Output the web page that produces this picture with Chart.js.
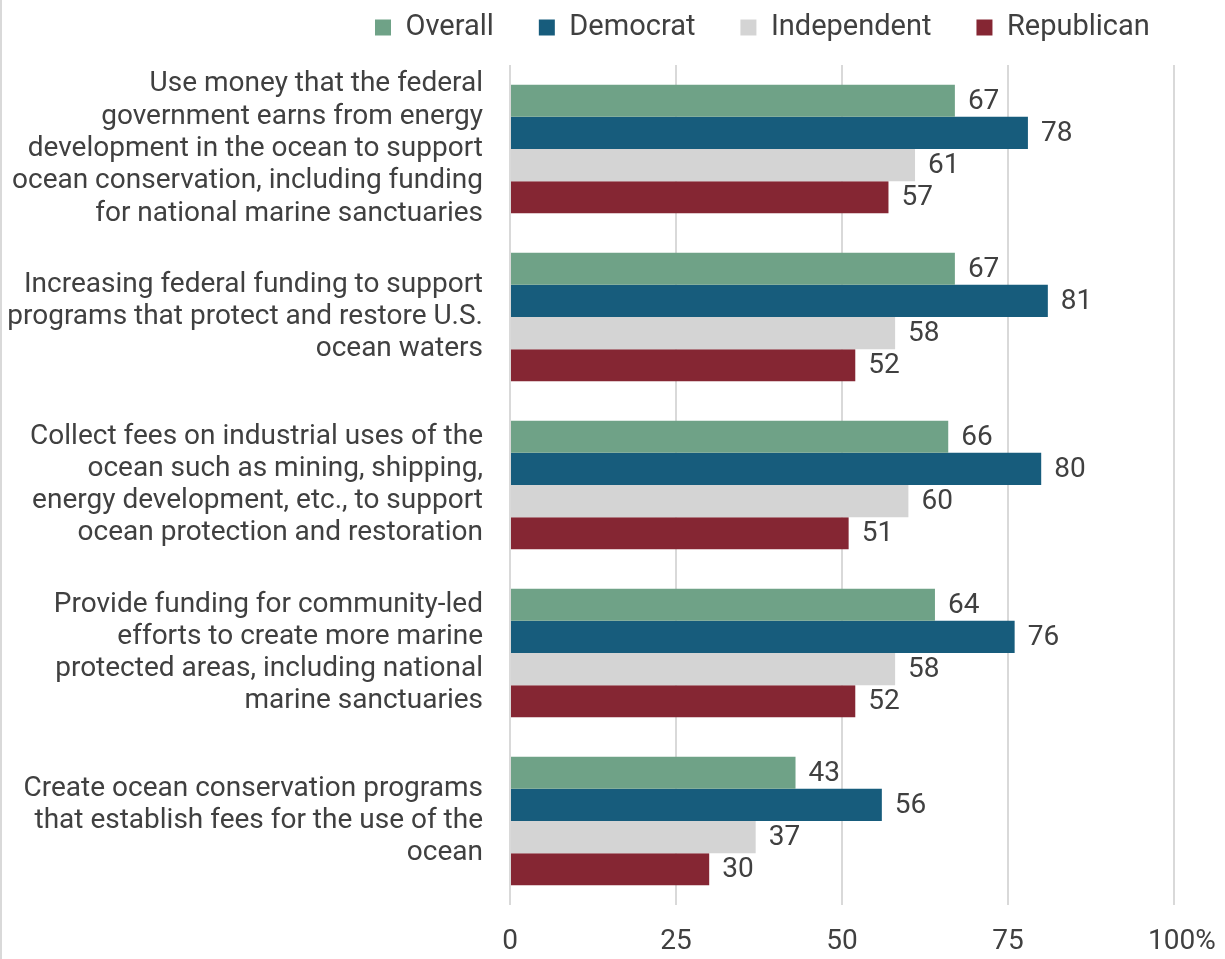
<!DOCTYPE html>
<html>
<head>
<meta charset="utf-8">
<script src="https://cdn.jsdelivr.net/npm/chart.js@4"></script>
<style>
  html, body { margin: 0; padding: 0; background: #ffffff; }
  #wrap { position: relative; width: 1225px; height: 959px; box-sizing: border-box; border-left: 2px solid #d9d9d9; }
</style>
</head>
<body>
<div id="wrap"><canvas id="chart"></canvas></div>
<script>
const categories = [
  ["Use money that the federal", "government earns from energy", "development in the ocean to support", "ocean conservation, including funding", "for national marine sanctuaries"],
  ["Increasing federal funding to support", "programs that protect and restore U.S.", "ocean waters"],
  ["Collect fees on industrial uses of the", "ocean such as mining, shipping,", "energy development, etc., to support", "ocean protection and restoration"],
  ["Provide funding for community-led", "efforts to create more marine", "protected areas, including national", "marine sanctuaries"],
  ["Create ocean conservation programs", "that establish fees for the use of the", "ocean"]
];
const seriesNames = ["Overall", "Democrat", "Independent", "Republican"];
const overall     = [67, 67, 66, 64, 43];
const democrat    = [78, 81, 80, 76, 56];
const independent = [61, 58, 60, 58, 37];
const republican  = [57, 52, 51, 52, 30];
const tickValues  = [0, 25, 50, 75, 100];
const tickLabels  = ["0", "25", "50", "75", "100%"];

const colors = ["#6fa287", "#175c7c", "#d4d4d4", "#852633"];
const textColor = "#404040";
const FONT = "Roboto, 'Noto Sans', sans-serif";
const SIZE = 28;

// value labels printed just past the end of each bar
const valueLabels = {
  id: "valueLabels",
  afterDatasetsDraw(chart) {
    const ctx = chart.ctx;
    ctx.save();
    ctx.font = SIZE + "px " + FONT;
    ctx.fillStyle = textColor;
    ctx.textAlign = "left";
    ctx.textBaseline = "middle";
    chart.data.datasets.forEach((ds, di) => {
      const meta = chart.getDatasetMeta(di);
      meta.data.forEach((bar, i) => {
        ctx.fillText(String(ds.data[i]), bar.x + 13, bar.y + 1);
      });
    });
    ctx.restore();
  }
};

// fixed legend band height; items drawn from an offset origin on one row
const legendBand = {
  id: "legendBand",
  afterInit(chart) {
    const lg = chart.legend;
    const fit = lg.fit;
    lg.fit = function () { fit.call(this); this.height = 65; };
    const draw = lg.draw;
    lg.draw = function () {
      const t = this.top, l = this.left, r = this.right;
      this.top = t - 32;
      this.left = l + 328;
      this.right = r + 300;
      draw.call(this);
      this.top = t;
      this.left = l;
      this.right = r;
    };
  }
};

new Chart(document.getElementById("chart"), {
  type: "bar",
  data: {
    labels: categories,
    datasets: [overall, democrat, independent, republican].map((d, i) => ({
      label: seriesNames[i],
      data: d,
      backgroundColor: colors[i],
      borderWidth: 0,
      barPercentage: 1.0,
      categoryPercentage: 0.766
    }))
  },
  options: {
    indexAxis: "y",
    responsive: true,
    maintainAspectRatio: false,
    animation: false,
    layout: { padding: { left: 0, right: 51, top: 0, bottom: 0 } },
    plugins: {
      tooltip: { enabled: false },
      legend: {
        position: "top",
        align: "start",
        labels: {
          boxWidth: 16,
          boxHeight: 16,
          padding: 45,
          color: textColor,
          font: { family: FONT, size: 29 }
        }
      }
    },
    scales: {
      x: {
        min: 0,
        max: 100,
        afterBuildTicks(scale) { scale.ticks = tickValues.map(v => ({ value: v })); },
        afterFit(scale) {
          scale.height = 54;
          scale.paddingLeft = 0;
          scale.paddingRight = 0;
        },
        ticks: {
          padding: 20,
          color: textColor,
          font: { family: FONT, size: SIZE },
          maxRotation: 0,
          // the percent sign hangs to the right of the centred number
          callback: (v) => {
            const s = tickLabels[tickValues.indexOf(v)];
            return s.endsWith("%") ? "\u2007" + s : s;
          }
        },
        grid: { display: true, color: "#d9d9d9", lineWidth: 2, drawTicks: false },
        border: { display: false }
      },
      y: {
        afterFit(scale) {
          scale.width = 508;
          scale.paddingTop = 0;
          scale.paddingBottom = 0;
        },
        ticks: {
          autoSkip: false,
          padding: 27,
          color: textColor,
          font: { family: FONT, size: SIZE, lineHeight: 1.153 },
          crossAlign: "near"
        },
        grid: { display: false, drawTicks: false },
        border: { display: false }
      }
    }
  },
  plugins: [valueLabels, legendBand]
});
</script>
</body>
</html>
